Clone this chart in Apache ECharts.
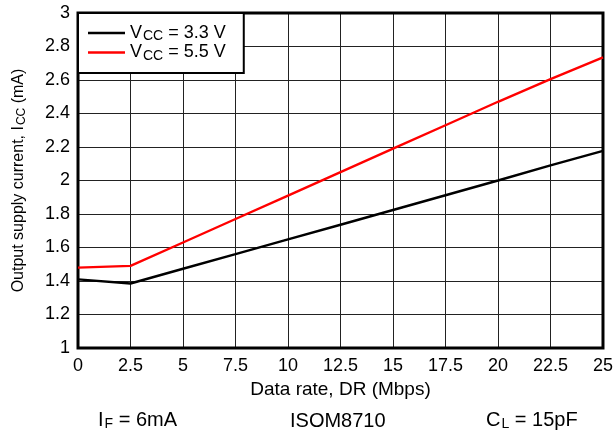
<!DOCTYPE html>
<html><head><meta charset="utf-8">
<script src="https://cdn.jsdelivr.net/npm/echarts@6/dist/echarts.min.js"></script>
<style>html,body{margin:0;padding:0;background:#fff}#c{width:616px;height:436px}</style>
</head><body><div id="c"></div>
<script>
const dataRate = [0, 2.5, 5, 7.5, 10, 12.5, 15, 17.5, 20, 22.5, 25];
const icc33 = [1.41, 1.385, 1.473, 1.56, 1.648, 1.736, 1.824, 1.912, 2.0, 2.09, 2.177];
const icc55 = [1.48, 1.49, 1.63, 1.77, 1.91, 2.05, 2.19, 2.33, 2.47, 2.605, 2.735];
const seriesNames = ['V_CC = 3.3 V', 'V_CC = 5.5 V'];
const xTicks = {min: 0, max: 25, interval: 2.5};
const yTicks = {min: 1, max: 3, interval: 0.2};

const FONT = '"Liberation Sans", Arial, sans-serif';
const chart = echarts.init(document.getElementById('c'), null, {renderer: 'canvas'});
function subFmt(name) {
  const m = name.match(/^V_CC(.*)$/);
  return '{n|V}{s|CC}{n|' + m[1] + '}';
}
const annRich = {
  n: {fontFamily: FONT, fontSize: 20, fill: '#000'},
  s: {fontFamily: FONT, fontSize: 14, fill: '#000', padding: [9, 0, 0, 1]}
};
chart.setOption({
  animation: false,
  grid: {left: 78, right: 12, top: 13, bottom: 88, show: true, borderColor: '#000', borderWidth: 3, backgroundColor: 'transparent', z: 3},
  legend: {
    left: 78, top: 13, orient: 'vertical',
    backgroundColor: '#fff', borderColor: '#000', borderWidth: 2,
    padding: [11, 18, 10, 10], itemGap: 0, itemWidth: 37, itemHeight: 14, itemTextGap: 8,
    formatter: subFmt,
    textStyle: {fontFamily: FONT, fontSize: 18, rich: {
      n: {fontFamily: FONT, fontSize: 18, color: '#000'},
      s: {fontFamily: FONT, fontSize: 14, color: '#000', padding: [7, 0, 0, 1]}
    }},
    data: seriesNames.map(n => ({name: n, icon: 'path://M0,0 L37,0 L37,2.4 L0,2.4 Z'}))
  },
  xAxis: {
    type: 'value', min: xTicks.min, max: xTicks.max, interval: xTicks.interval,
    name: 'Data rate, DR (Mbps)', nameLocation: 'middle', nameGap: 28,
    nameTextStyle: {fontFamily: FONT, fontSize: 19, color: '#000'},
    axisLine: {show: false}, axisTick: {show: false},
    axisLabel: {fontFamily: FONT, fontSize: 18, color: '#000', margin: 9},
    splitLine: {show: true, lineStyle: {color: '#222', width: 1}}
  },
  yAxis: {
    type: 'value', min: yTicks.min, max: yTicks.max, interval: yTicks.interval,
    name: '{n|Output supply current, I}{s|CC}{n| (mA)}', nameLocation: 'middle', nameGap: 50, nameRotate: 90,
    nameTextStyle: {fontFamily: FONT, fontSize: 16, color: '#000', rich: {
      n: {fontFamily: FONT, fontSize: 16, color: '#000'},
      s: {fontFamily: FONT, fontSize: 12, color: '#000', padding: [6, 0, 0, 1]}
    }},
    axisLine: {show: false}, axisTick: {show: false},
    axisLabel: {fontFamily: FONT, fontSize: 18, color: '#000', margin: 8},
    splitLine: {show: true, lineStyle: {color: '#222', width: 1}}
  },
  graphic: [
    {type: 'text', left: 98, top: 410, style: {rich: annRich, text: '{n|I}{s|F}{n| = 6mA}'}},
    {type: 'text', left: 290, top: 411, style: {fontFamily: FONT, fontSize: 20, fill: '#000', text: 'ISOM8710'}},
    {type: 'text', left: 486, top: 410, style: {rich: annRich, text: '{n|C}{s|L}{n| = 15pF}'}}
  ],
  series: [
    {name: seriesNames[0], type: 'line', data: dataRate.map((x, i) => [x, icc33[i]]), symbol: 'none', lineStyle: {color: '#000', width: 2.4}, itemStyle: {color: '#000'}, z: 4},
    {name: seriesNames[1], type: 'line', data: dataRate.map((x, i) => [x, icc55[i]]), symbol: 'none', lineStyle: {color: '#ff0000', width: 2.4}, itemStyle: {color: '#ff0000'}, z: 4}
  ]
});
</script></body></html>
